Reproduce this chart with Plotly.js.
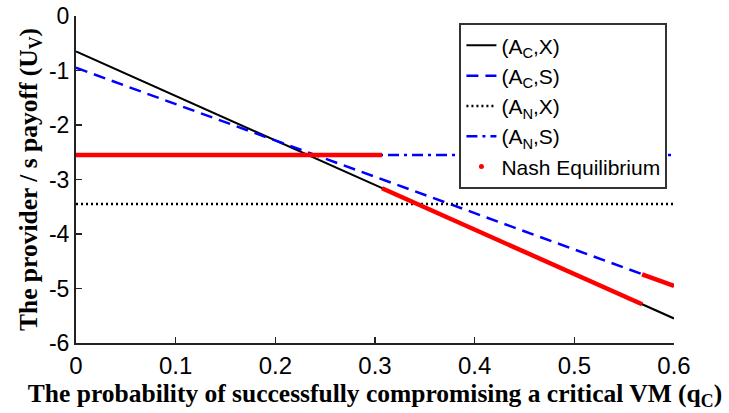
<!DOCTYPE html>
<html>
<head>
<meta charset="utf-8">
<script src="https://cdn.plot.ly/plotly-3.0.1.min.js"></script>
<style>html,body{margin:0;padding:0;background:#fff;}#chart{width:729px;height:413px;}</style>
</head>
<body>
<div id="chart"></div>
<script>
// Data
const qC = [0, 0.6];
const ACX = [-0.65, -5.55];          // (A_C, X)
const ACS = [-0.95, -4.95];          // (A_C, S)
const ANX = [-3.45, -3.45];          // (A_N, X)
const ANS = [-2.55, -2.55];          // (A_N, S)
// Nash equilibrium segments (null breaks between segments)
const nashX = [0, 0.307, null, 0.307, 0.568, null, 0.568, 0.6];
const nashY = [-2.55, -2.55, null, -3.16, -5.29, null, -4.74, -4.95];

const xTicks = [0, 0.1, 0.2, 0.3, 0.4, 0.5, 0.6];
const xTickText = ['0', '0.1', '0.2', '0.3', '0.4', '0.5', '0.6'];
const yTicks = [0, -1, -2, -3, -4, -5, -6];
const yTickText = ['0', '-1', '-2', '-3', '-4', '-5', '-6'];

const traces = [
  {x: qC, y: ACX, mode: 'lines', name: '(A<sub>C</sub>,X)', line: {color: '#000000', width: 2}},
  {x: qC, y: ACS, mode: 'lines', name: '(A<sub>C</sub>,S)', line: {color: '#0000ff', width: 2.5, dash: '12px,7px'}},
  {x: qC, y: ANX, mode: 'lines', name: '(A<sub>N</sub>,X)', line: {color: '#000000', width: 2.5, dash: '2px,3px'}},
  {x: qC, y: ANS, mode: 'lines', name: '(A<sub>N</sub>,S)', line: {color: '#0000ff', width: 2.5, dash: '11px,5px,3px,5px'}},
  {x: nashX, y: nashY, mode: 'lines', name: 'Nash Equilibrium', showlegend: false, line: {color: '#ff0000', width: 4.5}, connectgaps: false},
  {x: [null], y: [null], mode: 'markers', name: 'Nash Equilibrium', marker: {color: '#ff0000', size: 5}}
];

const layout = {
  width: 729, height: 413,
  margin: {l: 76, r: 55, t: 16, b: 70},
  paper_bgcolor: '#ffffff', plot_bgcolor: '#ffffff',
  font: {family: 'Liberation Sans, Arial, sans-serif', color: '#000000', size: 19},
  showlegend: true,
  legend: {
    x: 0.989, y: 0.978, xanchor: 'right', yanchor: 'top',
    bgcolor: '#ffffff', bordercolor: '#333333', borderwidth: 2,
    font: {family: 'Liberation Sans, Arial, sans-serif', size: 21, color: '#000'},
    tracegroupgap: 0, itemwidth: 30
  },
  xaxis: {
    range: [0, 0.6], tickvals: xTicks, ticktext: xTickText,
    showgrid: false, zeroline: false, showline: true, linecolor: '#222', linewidth: 2,
    ticks: 'inside', ticklen: 6, tickwidth: 1.5, tickcolor: '#222',
    tickfont: {size: 24, family: 'Liberation Sans, Arial, sans-serif'},
    title: {text: 'The probability of successfully compromising a critical VM (q<sub>C</sub>)',
            font: {family: 'Liberation Serif, Times New Roman, serif', size: 25.5, weight: 'bold'}, standoff: 2}
  },
  yaxis: {
    range: [-6, 0], tickvals: yTicks, ticktext: yTickText,
    showgrid: false, zeroline: false, showline: true, linecolor: '#222', linewidth: 2,
    ticks: 'inside', ticklen: 6, tickwidth: 1.5, tickcolor: '#222',
    tickfont: {size: 23, family: 'Liberation Sans, Arial, sans-serif'},
    title: {text: 'The provider / s payoff (U<sub>V</sub>)',
            font: {family: 'Liberation Serif, Times New Roman, serif', size: 25.5, weight: 'bold'}, standoff: 4}
  }
};

Plotly.newPlot('chart', traces, layout, {displayModeBar: false, staticPlot: true});
</script>
</body>
</html>
